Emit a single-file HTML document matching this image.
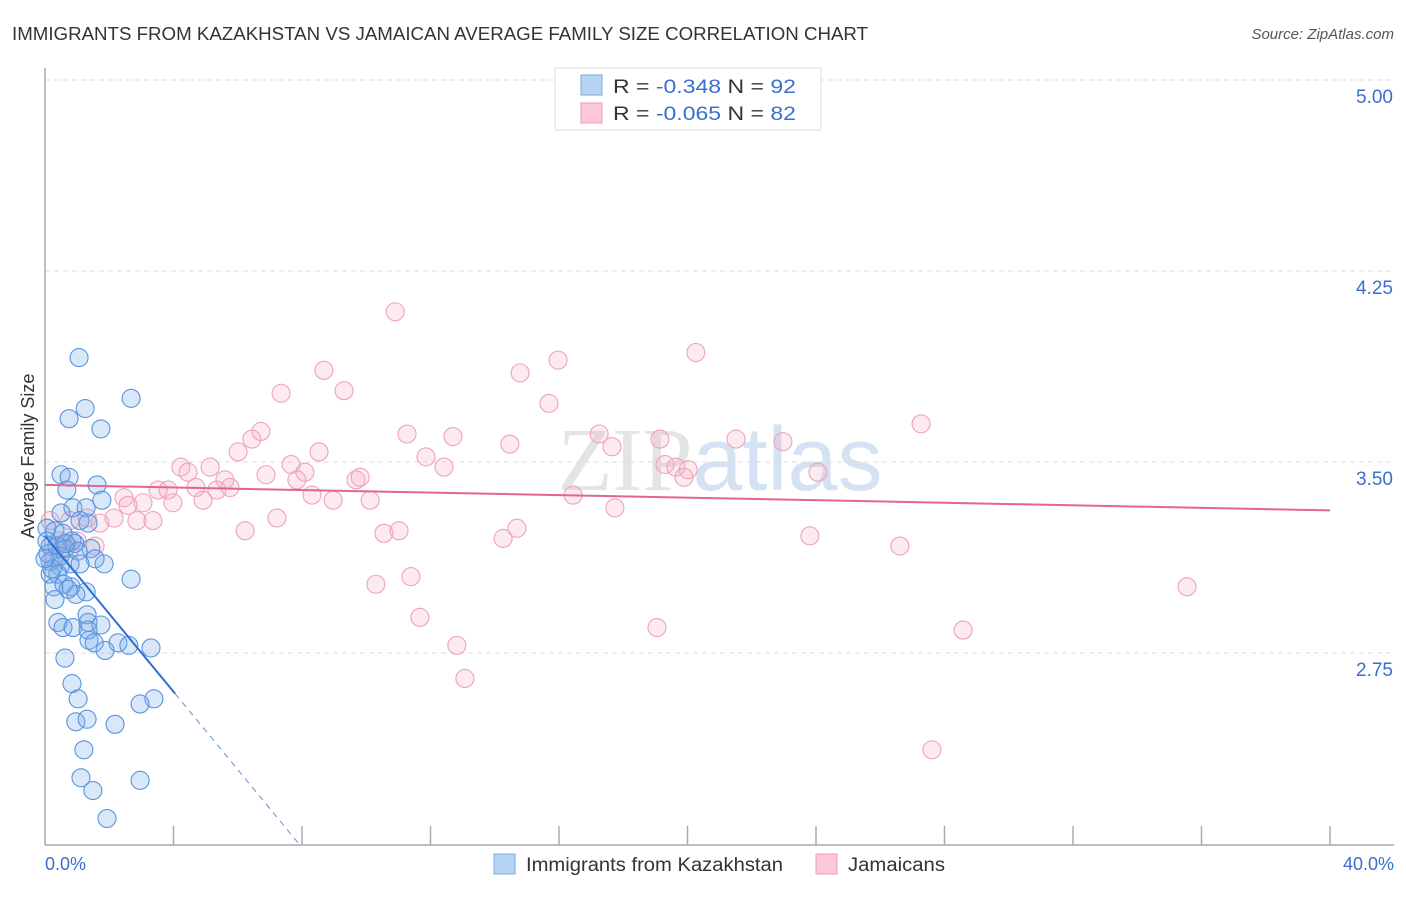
<!DOCTYPE html>
<html><head><meta charset="utf-8"><style>
body{margin:0;background:#fff;font-family:"Liberation Sans",sans-serif;}
</style></head><body>
<svg id="chart" width="1406" height="892" xmlns="http://www.w3.org/2000/svg" style="font-family:'Liberation Sans',sans-serif">
<text x="12" y="40" font-size="18" fill="#333" textLength="856" lengthAdjust="spacingAndGlyphs">IMMIGRANTS FROM KAZAKHSTAN VS JAMAICAN AVERAGE FAMILY SIZE CORRELATION CHART</text>
<text x="1394" y="39" font-size="15" fill="#555" font-style="italic" text-anchor="end">Source: ZipAtlas.com</text>
<text x="720" y="490" font-size="90" fill="#e4e4e4" text-anchor="middle" font-family="Liberation Serif">ZIP<tspan fill="#d5e2f3" font-family="Liberation Sans">atlas</tspan></text>
<g id="grid"></g>
<line x1="45" y1="68" x2="45" y2="845" stroke="#aaa" stroke-width="1.5"/>
<line x1="45" y1="845" x2="1394" y2="845" stroke="#aaa" stroke-width="1.5"/>
<g id="xticks"></g>
<text transform="translate(34,456) rotate(-90)" font-size="18" fill="#333" text-anchor="middle">Average Family Size</text>
<text x="45" y="870" font-size="18" fill="#3a6fd0">0.0%</text>
<text x="1394" y="870" font-size="18" fill="#3a6fd0" text-anchor="end">40.0%</text>
<g id="pink"></g><g id="blue"></g><g id="trends"></g>
<g>
<rect x="555" y="68" width="266" height="62" fill="#fff" stroke="#ddd"/>
<rect x="581" y="75" width="21" height="20" fill="#b8d4f5" stroke="#7aaae6"/>
<rect x="581" y="103" width="21" height="20" fill="#fcc8d7" stroke="#ee9ab4"/>
<text x="613" y="93" font-size="19" fill="#333" textLength="183" lengthAdjust="spacingAndGlyphs">R =  <tspan fill="#3a6fd0">-0.348</tspan>    N = <tspan fill="#3a6fd0">92</tspan></text>
<text x="613" y="120" font-size="19" fill="#333" textLength="183" lengthAdjust="spacingAndGlyphs">R =  <tspan fill="#3a6fd0">-0.065</tspan>    N = <tspan fill="#3a6fd0">82</tspan></text>
</g>
<g>
<rect x="494" y="854" width="21" height="20" fill="#b8d4f5" stroke="#7aaae6"/>
<text x="526" y="871" font-size="19" fill="#333" textLength="257" lengthAdjust="spacingAndGlyphs">Immigrants from Kazakhstan</text>
<rect x="816" y="854" width="21" height="20" fill="#fcc8d7" stroke="#ee9ab4"/>
<text x="848" y="871" font-size="19" fill="#333" textLength="97" lengthAdjust="spacingAndGlyphs">Jamaicans</text>
</g>
</svg>
<script>
const yTicks=[5.00,4.25,3.50,2.75];
const yTickLabels=["5.00","4.25","3.50","2.75"];
const blueX=[1.06,1.25,0.75,2.68,1.74,0.50,0.75,0.68,1.62,1.77,0.87,1.28,0.50,1.09,1.34,0.06,0.31,0.56,0.84,0.16,0.37,0.93,1.43,0.09,0.62,1.03,1.84,1.56,0.16,0.47,0.78,1.09,0.16,0.40,0.28,0.59,0.81,1.28,0.96,2.68,0.72,0.40,0.56,0.87,1.31,1.34,1.74,1.34,1.37,1.53,2.27,2.61,1.87,3.30,0.62,0.84,1.03,3.39,2.96,0.96,1.31,2.18,1.21,1.12,2.96,1.49,1.93,0.06,0.22,0.47,0.65,0.00,0.31];
const blueY=[3.91,3.71,3.67,3.75,3.63,3.45,3.44,3.39,3.41,3.35,3.32,3.32,3.30,3.27,3.26,3.24,3.23,3.22,3.19,3.17,3.17,3.18,3.16,3.14,3.16,3.15,3.10,3.12,3.11,3.09,3.10,3.10,3.06,3.06,3.01,3.02,3.01,2.99,2.98,3.04,3.00,2.87,2.85,2.85,2.90,2.87,2.86,2.84,2.80,2.79,2.79,2.78,2.76,2.77,2.73,2.63,2.57,2.57,2.55,2.48,2.49,2.47,2.37,2.26,2.25,2.21,2.10,3.19,3.08,3.13,3.18,3.12,2.96];
const pinkX=[10.90,15.97,20.26,8.68,14.79,7.35,9.31,15.69,27.27,6.72,6.44,11.27,12.70,14.47,17.25,6.01,8.53,19.14,21.51,22.97,17.65,4.23,4.45,5.14,11.86,12.42,7.66,8.09,6.88,19.30,19.64,20.02,19.89,24.06,5.60,9.68,9.81,3.52,3.83,4.70,5.76,5.35,7.84,8.31,2.46,3.05,3.98,4.92,8.97,10.12,16.44,1.31,1.71,2.15,2.58,2.86,3.36,7.22,6.23,10.55,11.02,14.69,14.26,17.74,23.81,26.61,10.30,11.39,35.55,11.67,19.05,28.58,12.82,13.07,27.61,0.78,0.47,0.78,1.00,0.31,0.56,1.56,0.16];
const pinkY=[4.09,3.90,3.93,3.86,3.85,3.77,3.78,3.73,3.65,3.62,3.59,3.61,3.60,3.57,3.61,3.54,3.54,3.59,3.59,3.58,3.56,3.48,3.46,3.48,3.52,3.48,3.49,3.46,3.45,3.49,3.48,3.47,3.44,3.46,3.43,3.43,3.44,3.39,3.39,3.40,3.40,3.39,3.43,3.37,3.36,3.34,3.34,3.35,3.35,3.35,3.37,3.28,3.26,3.28,3.33,3.27,3.27,3.28,3.23,3.22,3.23,3.24,3.20,3.32,3.21,3.17,3.02,3.05,3.01,2.89,2.85,2.84,2.78,2.65,2.37,3.27,3.19,3.16,3.19,3.12,3.18,3.17,3.27];
const blueTrend=[3.21,-0.153];
const pinkTrend=[3.41,-0.0025];
const NS="http://www.w3.org/2000/svg";
const xs=v=>45+v*32.125;
const ys=v=>80+(5-v)*254.67;
function mk(tag,attrs,parent){const e=document.createElementNS(NS,tag);for(const k in attrs)e.setAttribute(k,attrs[k]);document.getElementById(parent).appendChild(e);return e;}
yTicks.forEach((t,i)=>{
  const l=mk('line',{x1:45,x2:1394,y1:ys(t),y2:ys(t),stroke:'#ddd','stroke-dasharray':'5,4'},'grid');
  
  
  const tx=mk('text',{x:1393,y:ys(t)+23,'font-size':19,fill:'#3a6fd0','text-anchor':'end'},'grid');
  tx.textContent=yTickLabels[i];
  
  
});
for(let k=1;k<=10;k++){
  const l=mk('line',{x1:xs(k*4),x2:xs(k*4),y1:826,y2:845,stroke:'#aaa','stroke-width':1.5},'xticks');
  
  
}
pinkX.forEach((x,i)=>{
  const c=mk('circle',{cx:xs(x),cy:ys(pinkY[i]),r:9,fill:'rgba(246,170,196,0.25)',stroke:'#eea2ba','stroke-width':1.1},'pink');
  
  
});
blueX.forEach((x,i)=>{
  const c=mk('circle',{cx:xs(x),cy:ys(blueY[i]),r:9,fill:'rgba(120,172,234,0.28)',stroke:'#5a93de','stroke-width':1.1},'blue');
  
  
});
const bl=mk('line',{x1:xs(0),y1:ys(blueTrend[0]),x2:xs(4.05),y2:ys(blueTrend[0]+blueTrend[1]*4.05),stroke:'#2a6fd6','stroke-width':2},'trends');


const xe=(2-blueTrend[0])/blueTrend[1];
const bd=mk('line',{x1:xs(4.05),y1:ys(blueTrend[0]+blueTrend[1]*4.05),x2:xs(xe),y2:ys(2),stroke:'#6a8fd8','stroke-width':1,'stroke-dasharray':'6,5'},'trends');


const pl=mk('line',{x1:xs(0),y1:ys(pinkTrend[0]),x2:xs(40),y2:ys(pinkTrend[0]+pinkTrend[1]*40),stroke:'#e3648f','stroke-width':2},'trends');


</script>
</body></html>
